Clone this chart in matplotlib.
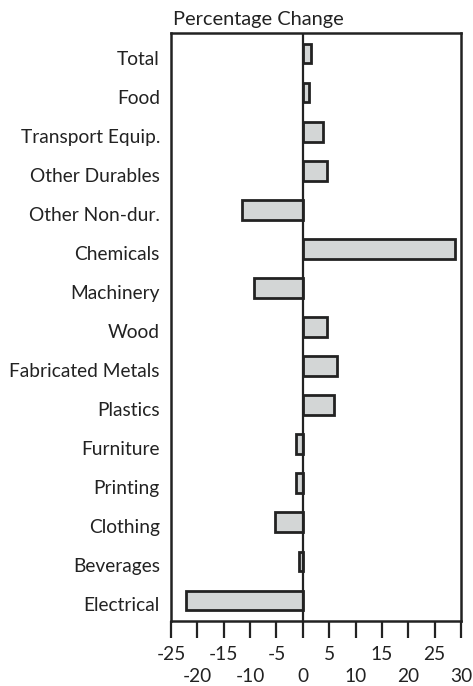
import numpy as np
import matplotlib.pyplot as plt
import matplotlib.transforms as mtransforms

# data (percentage change)
categories = ["Total", "Food", "Transport Equip.", "Other Durables", "Other Non-dur.",
              "Chemicals", "Machinery", "Wood", "Fabricated Metals", "Plastics",
              "Furniture", "Printing", "Clothing", "Beverages", "Electrical"]
values = [1.5, 1.2, 3.9, 4.5, -11.5, 28.8, -9.2, 4.5, 6.4, 6.0,
          -1.2, -1.2, -5.3, -0.8, -22.1]
ticks = [-25, -20, -15, -10, -5, 0, 5, 10, 15, 20, 25, 30]

ink = "#222222"
plt.rcParams['font.family'] = ['Lato', 'DejaVu Sans']
fs = 13.8

fig = plt.figure(figsize=(4.73, 6.86), dpi=100)
ax = fig.add_axes([171 / 473, 1 - 621 / 686, 290 / 473, 588 / 686])

ypos = np.arange(len(categories))
ax.barh(ypos, values, height=0.5, color="#d3d6d6", edgecolor=ink, linewidth=2, zorder=3)
ax.axvline(0, color=ink, linewidth=1.6, zorder=4)

ax.set_xlim(-25, 30)
ax.set_ylim(len(categories) - 0.47, -0.53)
ax.set_yticks(ypos)
ax.set_yticklabels(categories, fontsize=fs, color=ink)
ax.tick_params(axis='y', length=0, pad=8)
# labels sit a little below the bar centres in the original
shift = mtransforms.ScaledTranslation(0, -0.04, fig.dpi_scale_trans)
for lab in ax.get_yticklabels():
    lab.set_transform(lab.get_transform() + shift)

ax.set_xticks(ticks)
ax.set_xticklabels([])
ax.tick_params(axis='x', direction='out', length=12, width=1.6, color=ink)
for i, t in enumerate(ticks):
    yoff = -0.057 if i % 2 == 0 else -0.094
    ax.text(t, yoff, str(t), transform=ax.get_xaxis_transform(),
            ha='center', va='center', fontsize=fs, color=ink)

for s in ax.spines.values():
    s.set_linewidth(1.8)
    s.set_color(ink)

fig.text(173 / 473, 1 - 20 / 686, "Percentage Change", ha='left', va='center',
         fontsize=fs + 0.6, color=ink)

fig.savefig("out.png", dpi=100)
